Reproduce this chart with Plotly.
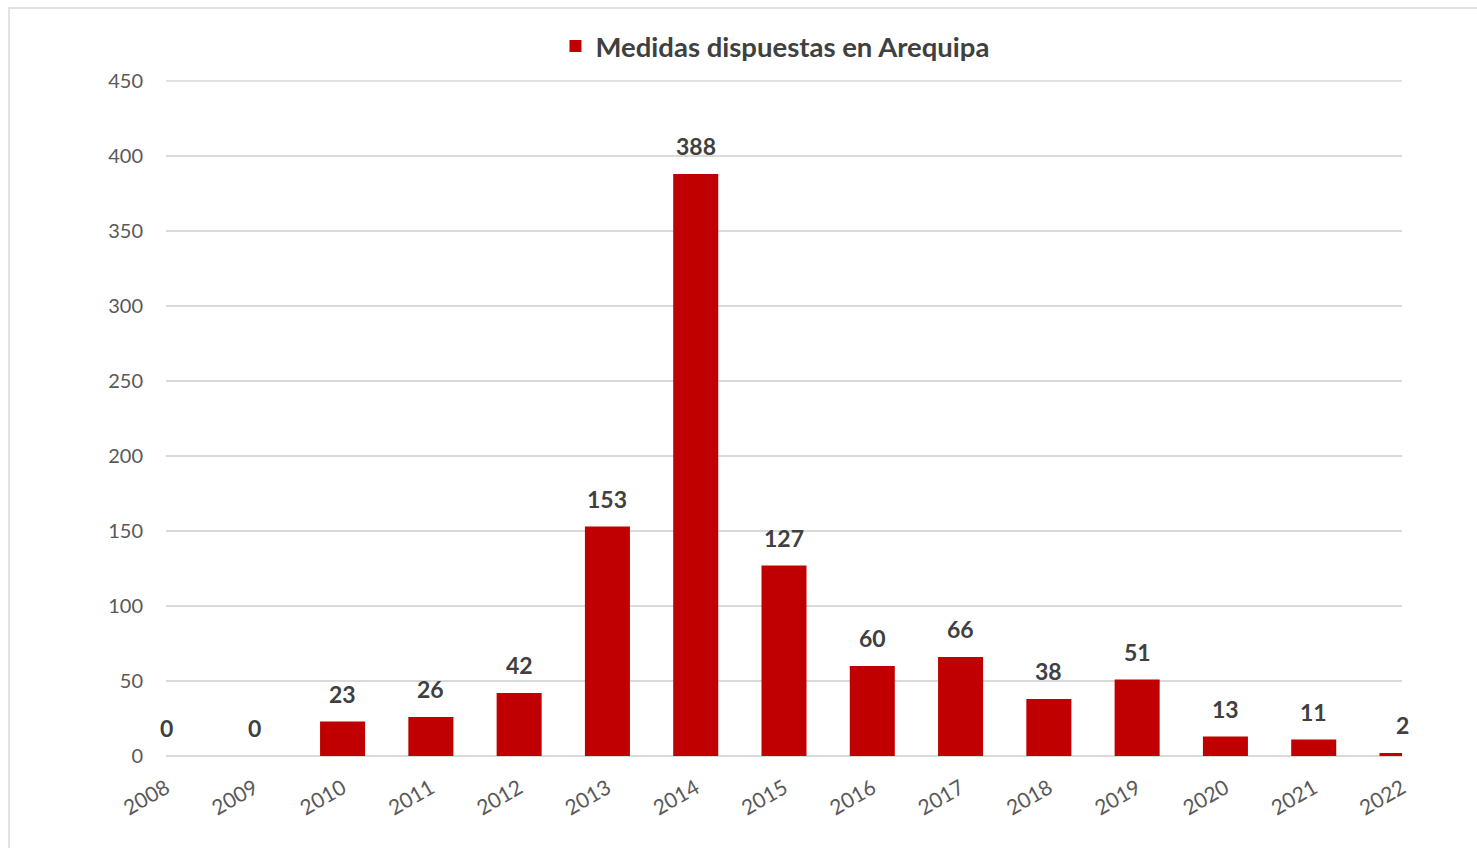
import plotly.graph_objects as go

years = ["2008", "2009", "2010", "2011", "2012", "2013", "2014", "2015",
         "2016", "2017", "2018", "2019", "2020", "2021", "2022"]
medidas = [0, 0, 23, 26, 42, 153, 388, 127, 60, 66, 38, 51, 13, 11, 2]
y_ticks = [0, 50, 100, 150, 200, 250, 300, 350, 400, 450]

W, H = 1477, 848
L, R, T, B = 166, 75, 81, 92
pw, ph = W - L - R, H - T - B

fig = go.Figure()
fig.add_trace(go.Bar(
    x=years, y=medidas, name="Medidas dispuestas en Arequipa",
    marker=dict(color="#C00000", line=dict(width=0)),
    width=0.51,
))

for i, v in enumerate(medidas):
    fig.add_annotation(x=i, y=v, text=f"<b>{v}</b>", showarrow=False,
                       yanchor="bottom", yshift=12,
                       font=dict(family="Lato, Open Sans, sans-serif", size=23, color="#404040"))

# top gridline at the top of the axis range (plotly drops the one on the plot edge)
fig.add_shape(type="line", xref="paper", yref="paper", x0=0, x1=1,
              y0=1, y1=1,
              line=dict(color="#D9D9D9", width=1.5), layer="below")

fig.add_shape(type="rect", xref="paper", yref="paper",
              x0=(9 - L) / pw, x1=(W + 20 - L) / pw,
              y0=-(H + 20 - T - ph) / ph, y1=1 + (T - 8) / ph,
              line=dict(color="#D9D9D9", width=1.5), layer="below")

fig.update_layout(
    width=W, height=H,
    margin=dict(l=L, r=R, t=T, b=B, pad=0),
    paper_bgcolor="white", plot_bgcolor="white",
    font=dict(family="Lato, Open Sans, sans-serif", color="#595959"),
    showlegend=True,
    legend=dict(orientation="h", x=0.4927, xanchor="center", y=1 + (T - 46) / ph,
                yanchor="middle",
                font=dict(size=27.5, color="#404040", family="Lato, Open Sans, sans-serif", weight="bold"),
                itemsizing="constant"),
    xaxis=dict(type="category", range=[0, 14], tickangle=-30,
               tickfont=dict(size=21, color="#595959"),
               showgrid=False, showline=False, ticks="", ticklabelstandoff=15),
    yaxis=dict(range=[0, 450], tickvals=y_ticks, showgrid=True,
               gridcolor="#D9D9D9", gridwidth=1.5, zeroline=True,
               zerolinecolor="#D9D9D9", zerolinewidth=1.5,
               tickfont=dict(size=20, color="#595959"), ticklabelstandoff=22,
               showline=False, ticks=""),
    bargap=0.49,
)

fig.write_html("out.html", config={"displayModeBar": False},
               post_script="document.body.style.margin='0';document.body.style.overflow='hidden';")
